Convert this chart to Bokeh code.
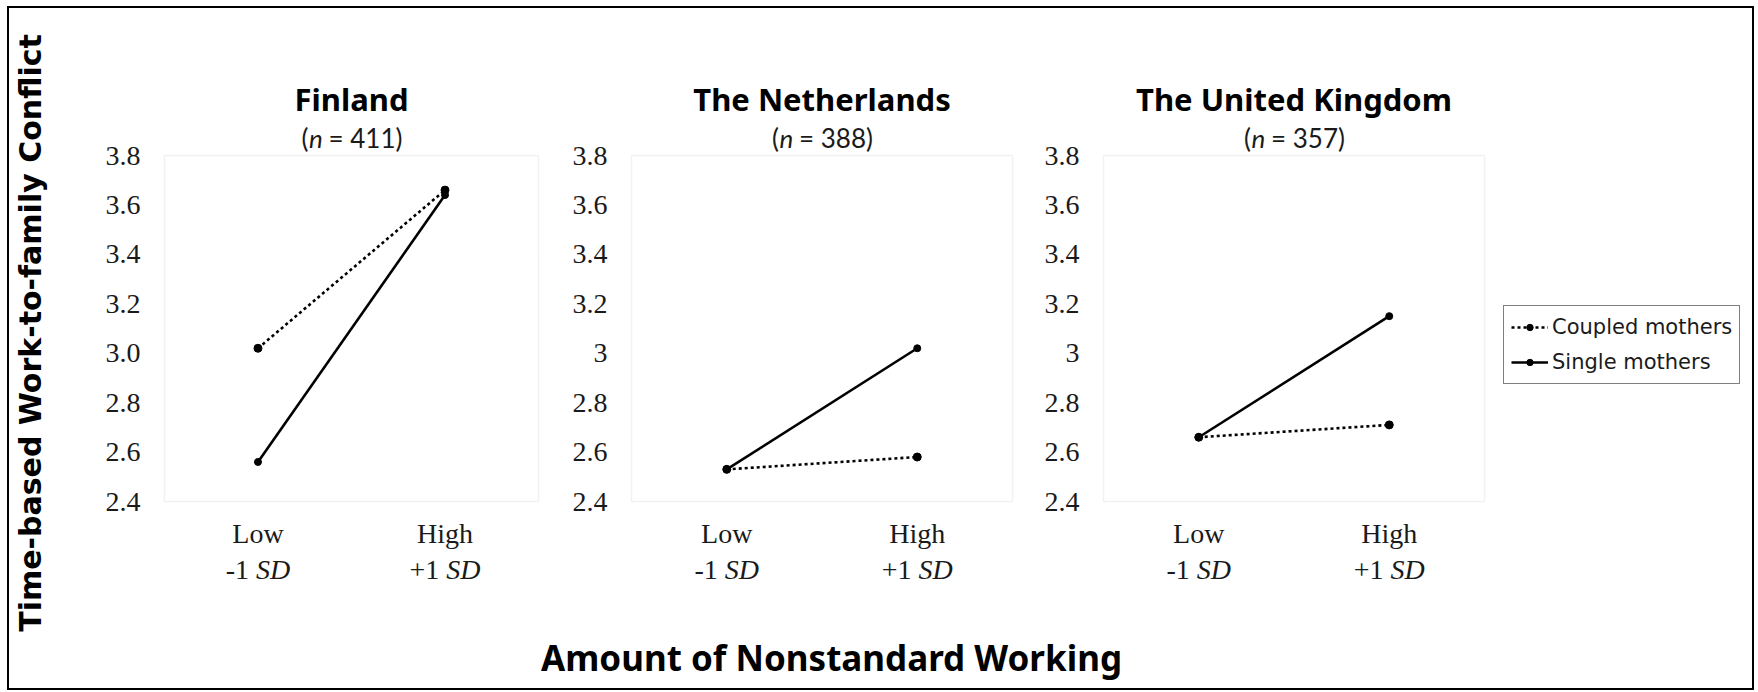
import math
from bokeh.plotting import figure
from bokeh.models import (Range1d, FixedTicker, Label, Legend, LegendItem,
                          ColumnDataSource, BoxAnnotation)
from bokeh.layouts import row, column
from bokeh.embed import file_html
from bokeh.resources import INLINE

# ---------------- data ----------------
categories = ["Low", "High"]
category_sd = ["-1", "+1"]
panel_titles = ["Finland", "The Netherlands", "The United Kingdom"]
sample_sizes = [411, 388, 357]
coupled_finland = [3.02, 3.66]
single_finland = [2.56, 3.64]
coupled_netherlands = [2.53, 2.58]
single_netherlands = [2.53, 3.02]
coupled_uk = [2.66, 2.71]
single_uk = [2.66, 3.15]
y_ticks = [2.4, 2.6, 2.8, 3.0, 3.2, 3.4, 3.6, 3.8]
y_tick_labels_finland = ["2.4", "2.6", "2.8", "3.0", "3.2", "3.4", "3.6", "3.8"]
y_tick_labels_other = ["2.4", "2.6", "2.8", "3", "3.2", "3.4", "3.6", "3.8"]
series_names = ["Coupled mothers", "Single mothers"]
y_title = "Time-based Work-to-family Conflict"
x_title = "Amount of Nonstandard Working"

# ---------------- layout (page pixels) ----------------
SANS = "Lato"
BOLD = "Noto Sans"
SERIF = "Liberation Serif"
TXT = "#1a1a1a"
OX, OY = 9, 8                 # content origin inside outer border
PAGE_BOTTOM = 688
ROW_BOTTOM = 600              # page y where panels 2/3 end
FT, FB = 70, 595              # frame top / bottom (page y)
BOX_T, BOX_B = 155, 501       # plot box top / bottom (page y)
PPU_Y = (BOX_B - BOX_T) / (y_ticks[-1] - y_ticks[0])
Y0 = y_ticks[0] - (FB - BOX_B) / PPU_Y
Y1 = y_ticks[-1] + (BOX_T - FT) / PPU_Y
xs = [i + 0.5 for i in range(len(categories))]
NCAT = len(categories)

SERIF_FS = 28
SERIF_W = {"-": 0.333, "+": 0.564, "1": 0.5, " ": 0.25, "SD": 1.222}
SANS_W = {"(": 0.29, "n": 0.55, " ": 0.2, "=": 0.58, "d": 0.58, ")": 0.29}
# measured baseline corrections (px) for Bokeh's alphabetic placement
CORR_TITLE, CORR_SUB, CORR_SERIF, CORR_XT = 13.5, 8, 11, 13


def make_panel(i, coupled, single, tick_labels, canvas_l, canvas_r, box_l, box_r,
               canvas_b, legend=False):
    ppu = (box_r - box_l) / NCAT
    frame_l = box_l - 2
    frame_r = min(canvas_r, box_r + 2) if not legend else canvas_r
    x0 = -(box_l - frame_l) / ppu
    x1 = NCAT + (frame_r - box_r) / ppu
    p = figure(width=canvas_r - canvas_l, height=canvas_b - OY,
               x_range=Range1d(x0, x1), y_range=Range1d(Y0, Y1),
               output_backend="svg", toolbar_location=None,
               x_axis_location=None,
               min_border_left=frame_l - canvas_l,
               min_border_right=canvas_r - frame_r,
               min_border_top=FT - OY, min_border_bottom=canvas_b - FB)
    p.grid.visible = False
    p.background_fill_color = "white"
    p.border_fill_color = "white"
    p.outline_line_color = None

    ax = p.yaxis[0]
    ax.ticker = FixedTicker(ticks=y_ticks)
    ax.major_label_overrides = {t: l for t, l in zip(y_ticks, tick_labels)}
    ax.axis_line_color = None
    ax.major_tick_line_color = None
    ax.minor_tick_line_color = None
    ax.major_tick_out = 0
    ax.major_tick_in = 0
    ax.major_label_text_font = SERIF
    ax.major_label_text_font_size = "%dpx" % SERIF_FS
    ax.major_label_text_color = TXT
    ax.major_label_standoff = 22

    p.add_layout(BoxAnnotation(left=0, right=NCAT, bottom=y_ticks[0],
                               top=y_ticks[-1], fill_color=None,
                               line_color="#d4d4d4", line_width=1.5))

    src = ColumnDataSource(dict(x=xs, coupled=coupled, single=single))
    rc = p.line("x", "coupled", source=src, line_color="black", line_width=2.6,
                line_dash="3 3")
    sc = p.scatter("x", "coupled", source=src, size=8, color="black")
    rs = p.line("x", "single", source=src, line_color="black", line_width=2.6)
    ss = p.scatter("x", "single", source=src, size=7, color="black")

    xc = NCAT / 2
    # panel title
    p.add_layout(Label(x=xc, y=FB - 112 + CORR_TITLE, x_units="data",
                       y_units="screen", text=panel_titles[i],
                       text_align="center", text_baseline="alphabetic",
                       text_font=BOLD, text_font_size="31px",
                       text_font_style="bold", text_color="black"))
    # subtitle "(n = N)" with italic n
    fs = 26
    rest = "= %d)" % sample_sizes[i]
    w_open = SANS_W["("] * fs
    w_n = SANS_W["n"] * fs
    w_sp = SANS_W[" "] * fs
    w_rest = (SANS_W["="] + SANS_W[" "] + 3 * SANS_W["d"] + SANS_W[")"]) * fs
    start = -(w_open + w_n + w_sp + w_rest) / 2
    for txt, off, style in [("(", start, "normal"),
                            ("n", start + w_open, "italic"),
                            (rest, start + w_open + w_n + w_sp, "normal")]:
        p.add_layout(Label(x=xc, y=FB - 145 + CORR_SUB, x_units="data",
                           y_units="screen", x_offset=off, text=txt,
                           text_align="left", text_baseline="alphabetic",
                           text_font=SANS, text_font_size="%dpx" % fs,
                           text_font_style=style, text_color=TXT))
    # category labels (two lines: "Low" / "-1 SD")
    fs2 = SERIF_FS
    for k, cat in enumerate(categories):
        p.add_layout(Label(x=xs[k], y=FB - 544 + CORR_SERIF, x_units="data",
                           y_units="screen", text=cat, text_align="center",
                           text_baseline="alphabetic", text_font=SERIF,
                           text_font_size="%dpx" % fs2, text_color=TXT))
        sd = category_sd[k]
        w1 = (SERIF_W[sd[0]] + SERIF_W["1"]) * fs2
        wsp = SERIF_W[" "] * fs2
        wsd = SERIF_W["SD"] * fs2
        st = -(w1 + wsp + wsd) / 2
        p.add_layout(Label(x=xs[k], y=FB - 580 + CORR_SERIF, x_units="data",
                           y_units="screen", x_offset=st, text=sd,
                           text_align="left", text_baseline="alphabetic",
                           text_font=SERIF, text_font_size="%dpx" % fs2,
                           text_color=TXT))
        p.add_layout(Label(x=xs[k], y=FB - 580 + CORR_SERIF, x_units="data",
                           y_units="screen", x_offset=st + w1 + wsp, text="SD",
                           text_align="left", text_baseline="alphabetic",
                           text_font=SERIF, text_font_size="%dpx" % fs2,
                           text_font_style="italic", text_color=TXT))

    if legend:
        lg = Legend(items=[LegendItem(label=series_names[0], renderers=[rc, sc]),
                           LegendItem(label=series_names[1], renderers=[rs, ss])],
                    location=(1503 - frame_l, FB - 384), orientation="vertical",
                    glyph_width=37, glyph_height=16, label_height=28,
                    label_standoff=4, spacing=7, padding=7, margin=0,
                    label_text_font="DejaVu Sans", label_text_font_size="21px",
                    label_text_color=TXT,
                    border_line_color="black", border_line_width=1.6,
                    background_fill_color="white", background_fill_alpha=1)
        p.add_layout(lg)
    return p


f1 = make_panel(0, coupled_finland, single_finland, y_tick_labels_finland,
                OX, 540, 157, 538, PAGE_BOTTOM)
f1.yaxis.axis_label = y_title
f1.yaxis.axis_label_text_font = "DejaVu Sans"
f1.yaxis.axis_label_text_font_size = "30px"
f1.yaxis.axis_label_text_font_style = "bold"
f1.yaxis.axis_label_text_color = "black"
f1.yaxis.axis_label_standoff = 55
f2 = make_panel(1, coupled_netherlands, single_netherlands, y_tick_labels_other,
                540, 1038, 631, 1012, ROW_BOTTOM)
f3 = make_panel(2, coupled_uk, single_uk, y_tick_labels_other,
                1038, 1752, 1103, 1484, ROW_BOTTOM, legend=True)

FB_L = 540
fb = figure(width=1752 - FB_L, height=PAGE_BOTTOM - ROW_BOTTOM,
            x_range=Range1d(0, 1), y_range=Range1d(0, 1),
            min_border=0, output_backend="svg", toolbar_location=None,
            x_axis_location=None, y_axis_location=None)
fb.grid.visible = False
fb.outline_line_color = None
fb.background_fill_color = "white"
fb.border_fill_color = "white"
fb.add_layout(Label(x=831 - FB_L, y=PAGE_BOTTOM - 670 + CORR_XT, x_units="screen",
                    y_units="screen", text=x_title, text_align="center",
                    text_baseline="alphabetic", text_font=BOLD,
                    text_font_size="35px", text_font_style="bold",
                    text_color="black"))

layout = row(f1, column(row(f2, f3), fb),
             styles={"border": "2px solid black"}, margin=(6, 0, 0, 7))

open("out.html", "w").write(file_html(layout, INLINE))
